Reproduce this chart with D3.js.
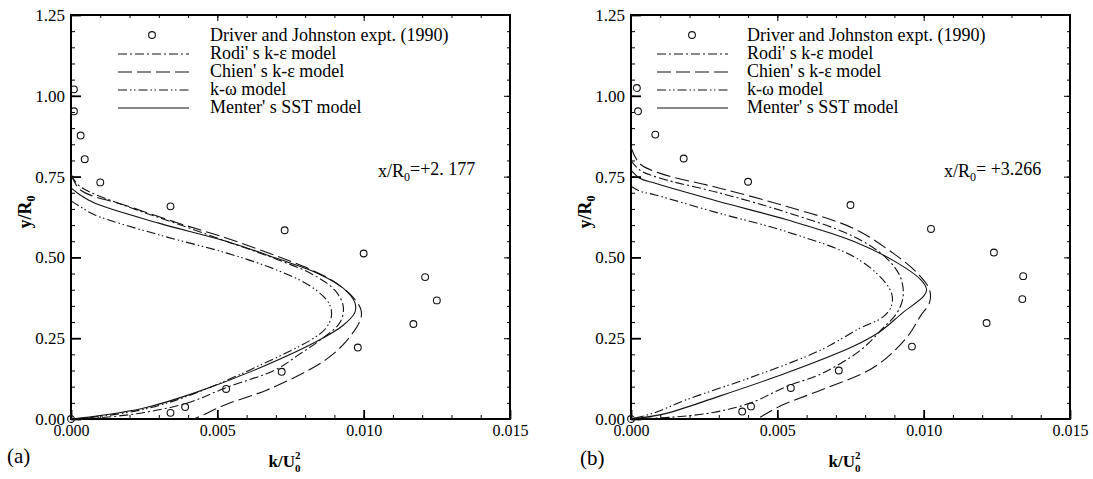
<!DOCTYPE html>
<html>
<head>
<meta charset="utf-8">
<script src="https://d3js.org/d3.v7.min.js"></script>
<style>
  body { margin: 0; background: #fff; }
  text { font-family: "Liberation Serif", "Times New Roman", serif; fill: #000; }
</style>
</head>
<body>
<div id="chart"></div>
<script>
// ---- data ----
var kMajor = [0, 0.005, 0.010, 0.015];
var yMajor = [0, 0.25, 0.50, 0.75, 1.00, 1.25];
var kMinor = d3.range(0, 0.0151, 0.001);
var yMinor = d3.range(0, 1.251, 0.05);

var seriesNames = ["Driver and Johnston expt. (1990)", "Rodi' s k-\u03b5 model",
                   "Chien' s k-\u03b5 model", "k-\u03c9 model", "Menter' s SST model"];

// (a) x/R0 = +2.177
var expK_a = [0, 0.0001, 0.0001, 0.00033, 0.00047, 0.0010, 0.0034, 0.0073, 0.0100, 0.0121, 0.0125, 0.0117, 0.0098, 0.0072, 0.0053, 0.0039, 0.0034];
var expY_a = [0, 1.020, 0.952, 0.877, 0.804, 0.732, 0.658, 0.584, 0.512, 0.439, 0.367, 0.294, 0.221, 0.146, 0.093, 0.037, 0.019];
var rodi_a = [[0,0.755],[0.0003,0.72],[0.002,0.655],[0.0035,0.608],[0.0053,0.55],[0.007,0.495],[0.0082,0.45],[0.009,0.40],[0.0093,0.35],[0.0092,0.30],[0.0086,0.25],[0.0078,0.20],[0.007,0.153],[0.0053,0.097],[0.004,0.05],[0.0025,0.02],[0.001,0.004],[0,0]];
var chien_a = [[0,0.76],[0.0003,0.71],[0.0019,0.66],[0.0036,0.608],[0.0053,0.56],[0.007,0.505],[0.008,0.47],[0.0089,0.43],[0.0096,0.38],[0.0099,0.34],[0.0099,0.31],[0.0094,0.24],[0.0088,0.19],[0.0081,0.15],[0.0067,0.09],[0.0053,0.045],[0.0045,0.012],[0.0042,0]];
var komega_a = [[0,0.675],[0.0003,0.658],[0.0008,0.632],[0.003,0.57],[0.0053,0.514],[0.007,0.462],[0.0082,0.41],[0.0088,0.36],[0.0089,0.32],[0.0087,0.28],[0.0082,0.245],[0.0065,0.168],[0.0042,0.078],[0.0025,0.03],[0.0008,0.006],[0,0]];
var sst_a = [[0,0.715],[0.0003,0.694],[0.0008,0.668],[0.003,0.606],[0.0053,0.55],[0.007,0.498],[0.0084,0.452],[0.0093,0.405],[0.0097,0.36],[0.0097,0.33],[0.0093,0.29],[0.0085,0.245],[0.0065,0.16],[0.0042,0.08],[0.0025,0.034],[0.0008,0.008],[0,0]];

// (b) x/R0 = +3.266
var expK_b = [0, 0.0002, 0.00024, 0.00083, 0.0018, 0.0040, 0.0075, 0.01025, 0.0124, 0.0134, 0.01337, 0.01215, 0.0096, 0.0071, 0.00546, 0.0041, 0.0038];
var expY_b = [0, 1.024, 0.952, 0.880, 0.806, 0.734, 0.662, 0.588, 0.515, 0.442, 0.371, 0.297, 0.224, 0.150, 0.096, 0.039, 0.023];
var rodi_b = [[0,0.80],[0.0003,0.77],[0.001,0.745],[0.003,0.70],[0.0053,0.64],[0.0076,0.565],[0.0087,0.50],[0.0092,0.44],[0.0093,0.38],[0.0091,0.33],[0.0086,0.28],[0.0078,0.21],[0.0065,0.14],[0.0053,0.10],[0.0041,0.05],[0.0028,0.02],[0.0013,0.005],[0,0]];
var chien_b = [[0,0.84],[0.0003,0.79],[0.001,0.76],[0.003,0.715],[0.0053,0.658],[0.0076,0.59],[0.009,0.51],[0.0098,0.45],[0.0102,0.40],[0.0102,0.36],[0.0099,0.32],[0.0094,0.25],[0.0083,0.16],[0.0065,0.09],[0.0051,0.04],[0.0045,0.01],[0.0043,0]];
var komega_b = [[0,0.72],[0.0003,0.705],[0.0008,0.694],[0.003,0.637],[0.0053,0.58],[0.0076,0.503],[0.0085,0.441],[0.0089,0.39],[0.0089,0.35],[0.0086,0.315],[0.0078,0.28],[0.0065,0.214],[0.0042,0.132],[0.0019,0.06],[0.0008,0.019],[0,0]];
var sst_b = [[0,0.77],[0.0003,0.745],[0.0008,0.73],[0.003,0.673],[0.0053,0.617],[0.0076,0.55],[0.0091,0.483],[0.0099,0.431],[0.0101,0.40],[0.0100,0.38],[0.0093,0.33],[0.0085,0.27],[0.0076,0.225],[0.0053,0.142],[0.003,0.07],[0.0011,0.015],[0,0]];

// ---- layout ----
var W = 1093, H = 479;
var plotW = 439, plotH = 404, plotTop = 15;

var svg = d3.select("#chart").append("svg")
    .attr("width", W)
    .attr("height", H);

var dashes = ["9,3,2,3", "14,5", "9,3,1.5,2.5,1.5,3", null];

var panels = [
  { left: 71,  tag: "(a)", tagX: 7,   tagY: 463, note: "x/R", noteVal: "=+2. 177",  noteX: 378, legLine: [118, 189], legMark: 152, legText: 210,
    expK: expK_a, expY: expY_a, curves: [rodi_a, chien_a, komega_a, sst_a] },
  { left: 631, tag: "(b)", tagX: 580, tagY: 465, note: "x/R", noteVal: "= +3.266", noteX: 944, legLine: [657, 728], legMark: 692, legText: 747,
    expK: expK_b, expY: expY_b, curves: [rodi_b, chien_b, komega_b, sst_b] }
];

panels.forEach(drawPanel);

function drawPanel(p) {
  var g = svg.append("g")
      .attr("transform", "translate(" + p.left + "," + plotTop + ")");

  var x = d3.scaleLinear().domain([0, 0.015]).range([0, plotW]);
  var y = d3.scaleLinear().domain([0, 1.25]).range([plotH, 0]);

  // minor ticks on all four sides
  g.append("g").attr("class", "tk").attr("transform", "translate(0," + plotH + ")")
    .call(d3.axisBottom(x).tickValues(kMinor).tickSize(-4).tickFormat(""));
  g.append("g").attr("class", "tk")
    .call(d3.axisTop(x).tickValues(kMinor).tickSize(-3).tickFormat(""));
  g.append("g").attr("class", "tk")
    .call(d3.axisLeft(y).tickValues(yMinor).tickSize(-4).tickFormat(""));
  g.append("g").attr("class", "tk").attr("transform", "translate(" + plotW + ",0)")
    .call(d3.axisRight(y).tickValues(yMinor).tickSize(-3).tickFormat(""));

  // major ticks with labels
  g.append("g").attr("class", "tk major").attr("transform", "translate(0," + plotH + ")")
    .call(d3.axisBottom(x).tickValues(kMajor).tickSize(-9).tickPadding(6).tickFormat(d3.format(".3f")))
    .selectAll("text").style("font-size", "16px").attr("fill", "#000");
  g.append("g").attr("class", "tk major")
    .call(d3.axisLeft(y).tickValues(yMajor).tickSize(-10).tickPadding(6).tickFormat(d3.format(".2f")))
    .selectAll("text").style("font-size", "17px").attr("fill", "#000");
  g.append("g").attr("class", "tk")
    .call(d3.axisTop(x).tickValues(kMajor).tickSize(-6).tickFormat(""));
  g.append("g").attr("class", "tk").attr("transform", "translate(" + plotW + ",0)")
    .call(d3.axisRight(y).tickValues(yMajor).tickSize(-6).tickFormat(""));

  g.selectAll(".tk .domain").remove();
  g.selectAll(".tk line").attr("stroke", "#000").attr("stroke-width", 1);
  g.selectAll(".major line").attr("stroke-width", 1.8);

  // frame
  g.append("rect")
    .attr("width", plotW).attr("height", plotH)
    .attr("fill", "none").attr("stroke", "#000").attr("stroke-width", 2);

  // model curves
  var line = d3.line()
    .x(function(d) { return x(d[0]); })
    .y(function(d) { return y(d[1]); })
    .curve(d3.curveCatmullRom.alpha(0.5));

  p.curves.forEach(function(c, i) {
    g.append("path")
      .datum(c)
      .attr("d", line)
      .attr("fill", "none")
      .attr("stroke", "#111")
      .attr("stroke-width", 1.1)
      .attr("stroke-dasharray", dashes[i]);
  });

  // experiment
  g.selectAll(".pt")
    .data(p.expK)
    .enter().append("circle")
      .attr("cx", function(d) { return x(d); })
      .attr("cy", function(d, i) { return y(p.expY[i]); })
      .attr("r", 3.4)
      .attr("fill", "none")
      .attr("stroke", "#111")
      .attr("stroke-width", 1.1);

  // legend
  var rows = [41, 59, 77, 95, 113];
  svg.append("circle")
    .attr("cx", p.legMark).attr("cy", rows[0] - 6).attr("r", 3.4)
    .attr("fill", "none").attr("stroke", "#111").attr("stroke-width", 1.1);
  dashes.forEach(function(d, i) {
    svg.append("line")
      .attr("x1", p.legLine[0]).attr("x2", p.legLine[1])
      .attr("y1", rows[i + 1] - 5).attr("y2", rows[i + 1] - 5)
      .attr("stroke", "#111").attr("stroke-width", 1.1)
      .attr("stroke-dasharray", d);
  });
  seriesNames.forEach(function(s, i) {
    svg.append("text")
      .attr("x", p.legText).attr("y", rows[i])
      .style("font-size", "18px")
      .text(s);
  });

  // station note
  var note = svg.append("text")
    .attr("x", p.noteX).attr("y", 177)
    .style("font-size", "18px");
  note.append("tspan").text(p.note);
  note.append("tspan").attr("dy", "0.3em").style("font-size", "12px").text("0");
  note.append("tspan").attr("dy", "-0.3em").text(p.noteVal);

  // axis titles
  var yt = svg.append("text")
    .attr("transform", "translate(" + (p.left - 40) + ",212) rotate(-90)")
    .attr("text-anchor", "middle")
    .style("font-size", "18px")
    .style("font-weight", "bold");
  yt.append("tspan").text("y/R");
  yt.append("tspan").attr("dy", "0.3em").style("font-size", "12px").text("0");

  var xt = svg.append("text")
    .attr("x", p.left + plotW / 2 - 22).attr("y", 467)
    .style("font-size", "17px")
    .style("font-weight", "bold");
  xt.append("tspan").text("k/U");
  xt.append("tspan").attr("dy", "5").style("font-size", "11px").text("0");
  xt.append("tspan").attr("dx", "-5.5").attr("dy", "-13").style("font-size", "11px").text("2");

  svg.append("text")
    .attr("x", p.tagX).attr("y", p.tagY)
    .style("font-size", "21px")
    .text(p.tag);
}
</script>
</body>
</html>
